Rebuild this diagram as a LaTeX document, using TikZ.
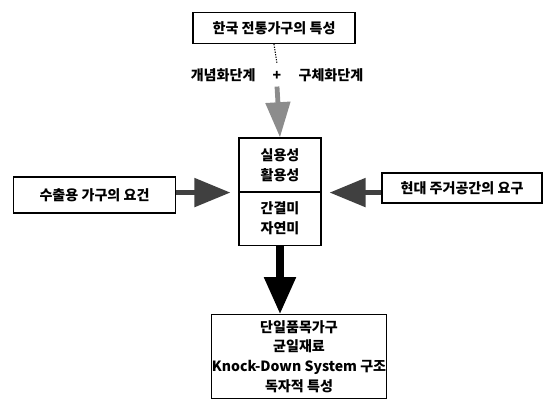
\documentclass[tikz,border=0pt]{standalone}
\usepackage{fontspec}
\setmainfont{Noto Sans CJK KR}
\usetikzlibrary{arrows.meta,positioning}

\begin{document}
\begin{tikzpicture}[x=0.025cm, y=-0.025cm, font=\fontsize{10}{14}\selectfont\bfseries,
  box/.style={draw, thick, align=center, inner sep=0pt},
  fatarrow/.style={line width=0.13cm, black!75, -{Triangle[length=0.9cm,width=0.7cm]}}]

% Fix the frame
\useasboundingbox (0,0) rectangle (546,401);

% Draw the boxes
\node[box, minimum width=4.05cm, minimum height=0.78cm] (trad) at (274,28) {한국 전통가구의 특성};
\node (stage) at (277,75) {개념화단계 \quad + \quad 구체화단계};
\node[box, minimum width=2.05cm, minimum height=1.35cm] (use) at (280,165) {실용성\\활용성};
\node[box, minimum width=2.05cm, minimum height=1.33cm] (beauty) at (280,218.5) {간결미\\자연미};
\node[box, minimum width=4.03cm, minimum height=0.9cm] (export) at (94.5,195) {수출용 가구의 요건};
\node[box, minimum width=4.0cm, minimum height=0.75cm] (modern) at (462,188) {현대 주거공간의 요구};
\node[box, minimum width=4.3cm, minimum height=2.08cm] (result) at (299,356.5)
  {단일품목가구\\균일재료\\Knock-Down System 구조\\독자적 특성};

% Draw the arrows
\draw[densely dotted, thick] (trad.south) -- (stage.north);
\draw[line width=0.12cm, black!45, -{Triangle[length=0.88cm,width=0.6cm]}] (stage.south) -- (use.north);
\draw[fatarrow, shorten >=0.2cm] (export.east |- use.south) -- (use.south west);
\draw[fatarrow, shorten >=0.2cm] (modern.west |- use.south) -- (use.south east);
\draw[line width=0.2cm, -{Triangle[length=0.93cm,width=0.75cm]}] (beauty.south) -- (beauty.south |- result.north);
\end{tikzpicture}
\end{document}
